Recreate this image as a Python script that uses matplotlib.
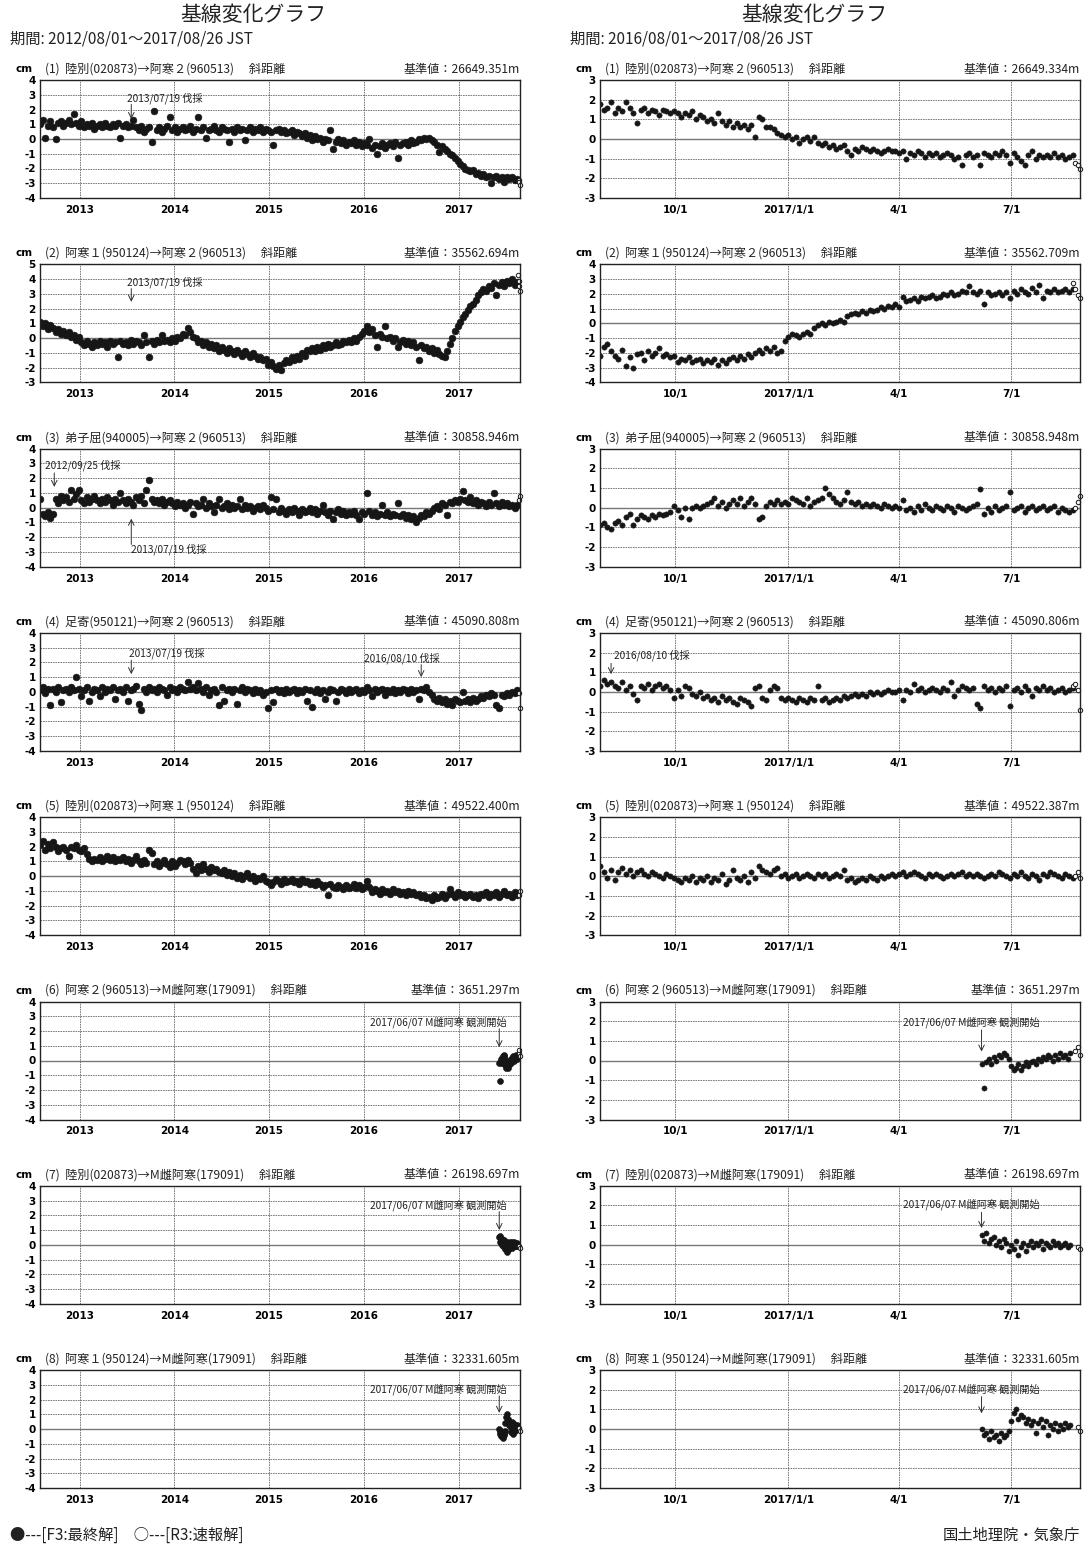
import numpy as np
import matplotlib
matplotlib.use('Agg')
import matplotlib.pyplot as plt
import matplotlib.dates as mdates

plt.rcParams['font.family'] = ['Noto Sans CJK JP', 'DejaVu Sans']

# ---------------- text ----------------
MAIN_TITLE = '基線変化グラフ'
PERIOD_LEFT = '期間: 2012/08/01～2017/08/26 JST'
PERIOD_RIGHT = '期間: 2016/08/01～2017/08/26 JST'
PANEL_TITLES = [
    '(1)  陸別(020873)→阿寒２(960513)　 斜距離',
    '(2)  阿寒１(950124)→阿寒２(960513)　 斜距離',
    '(3)  弟子屈(940005)→阿寒２(960513)　 斜距離',
    '(4)  足寄(950121)→阿寒２(960513)　 斜距離',
    '(5)  陸別(020873)→阿寒１(950124)　 斜距離',
    '(6)  阿寒２(960513)→M雌阿寒(179091)　 斜距離',
    '(7)  陸別(020873)→M雌阿寒(179091)　 斜距離',
    '(8)  阿寒１(950124)→M雌阿寒(179091)　 斜距離',
]
BASE_LEFT = ['26649.351', '35562.694', '30858.946', '45090.808',
             '49522.400', '3651.297', '26198.697', '32331.605']
BASE_RIGHT = ['26649.334', '35562.709', '30858.948', '45090.806',
              '49522.387', '3651.297', '26198.697', '32331.605']
LEFT_TICKS = ['2013-01-01', '2014-01-01', '2015-01-01', '2016-01-01', '2017-01-01']
LEFT_TICK_LABELS = ['2013', '2014', '2015', '2016', '2017']
RIGHT_TICKS = ['2016-10-01', '2017-01-01', '2017-04-01', '2017-07-01']
RIGHT_TICK_LABELS = ['10/1', '2017/1/1', '4/1', '7/1']
YLIM_LEFT = [(-4, 4), (-3, 5), (-4, 4), (-4, 4), (-4, 4), (-4, 4), (-4, 4), (-4, 4)]
YLIM_RIGHT = [(-3, 3), (-4, 4), (-3, 3), (-3, 3), (-3, 3), (-3, 3), (-3, 3), (-3, 3)]
FOOT_LEFT = '●---[F3:最終解]　○---[R3:速報解]'
FOOT_RIGHT = '国土地理院・気象庁'

LEFT_START, LEFT_END = '2012-08-01', '2017-08-26'
RIGHT_START, RIGHT_END = '2016-08-01', '2017-08-26'
LEFT_STEP = 10    # days between samples (long-term panels)
RIGHT_STEP = 3    # days between samples (short-term panels)
M_START, M_STEP = '2017-06-07', 2
QUICK_DATES = ['2017-08-20', '2017-08-22', '2017-08-24', '2017-08-26']

# ---------------- data (cm), long-term panels, every 10 days from 2012-08-01 ----------------
L1 = [1.0, 1.3, 0.1, 0.9, 1.2, 0.8, 0.0, 1.1, 1.2, 0.9, 1.1, 1.3, 1.0, 1.7, 1.1,
      0.9, 1.2, 0.8, 1.0, 0.9, 1.1, 0.7, 0.9, 1.0, 0.8, 1.1, 0.9, 0.8, 1.0, 0.9,
      1.1, 0.1, 0.9, 1.0, 0.8, 0.9, 1.3, 0.8, 0.6, 0.9, 0.5, 0.7, 0.8, -0.2, 1.9,
      0.6, 0.8, 0.5, 0.7, 0.9, 1.5, 0.6, 0.8, 0.5, 0.7, 0.8, 0.6, 0.7, 0.9, 0.5,
      0.7, 1.5, 0.6, 0.8, 0.1, 0.6, 0.7, 0.9, 0.6, 0.5, 0.8, 0.7, 0.6, -0.2, 0.7,
      0.5, 0.8, 0.6, 0.7, -0.1, 0.6, 0.8, 0.5, 0.7, 0.6, 0.8, 0.5, 0.7, 0.6, 0.5,
      -0.4, 0.6, 0.7, 0.5, 0.6, 0.4, 0.5, 0.6, 0.3, 0.5, 0.4, 0.2, 0.4, 0.1, 0.3,
      -0.1, 0.2, 0.0, 0.1, -0.2, 0.0, -0.1, 0.6, -0.7, -0.2, 0.0, -0.3, -0.1, -0.4, -0.2,
      -0.3, -0.1, -0.4, -0.2, -0.5, -0.3, -0.4, 0.0, -0.6, -0.4, -1.0, -0.5, -0.3, -0.6, -0.4,
      -0.3, -0.5, -0.2, -1.3, -0.4, -0.3, -0.2, -0.4, -0.1, -0.3, -0.2, 0.0, -0.1, 0.1, 0.0,
      0.1, -0.1, -0.2, -0.4, -0.9, -0.5, -0.7, -0.8, -1.0, -1.1, -1.3, -1.5, -1.7, -1.8, -2.0,
      -2.1, -2.2, -2.1, -2.4, -2.3, -2.5, -2.4, -2.6, -2.5, -3.0, -2.6, -2.5, -2.7, -2.6, -2.9,
      -2.6, -2.7, -2.6, -2.8, -2.7]
L1_Q = [-2.8, -2.9, -3.1]

L2 = [1.1, 0.8, 1.0, 0.6, 0.9, 0.7, 0.4, 0.6, 0.3, 0.5, 0.2, 0.4, 0.1, 0.2, -0.1,
      0.1, -0.3, -0.5, -0.2, -0.4, -0.6, -0.3, -0.5, -0.2, -0.4, -0.3, -0.6, -0.2, -0.4, -0.3,
      -1.3, -0.2, -0.4, -0.3, -0.5, -0.1, -0.4, -0.2, -0.3, -0.5, 0.2, -0.3, -1.3, -0.2, -0.4,
      -0.1, -0.3, 0.2, -0.2, -0.1, -0.3, 0.0, -0.2, 0.1, 0.0, 0.3, 0.2, 0.7, 0.4, 0.1,
      0.0, -0.3, -0.2, -0.5, -0.3, -0.6, -0.4, -0.7, -0.5, -0.9, -0.6, -0.8, -1.0, -0.7, -0.9,
      -1.1, -0.8, -1.0, -1.2, -0.9, -1.1, -1.3, -1.0, -1.2, -1.4, -1.3, -1.5, -1.4, -1.8, -1.6,
      -1.9, -2.1, -1.8, -2.2, -1.7, -1.5, -1.6, -1.3, -1.5, -1.2, -1.4, -1.0, -1.2, -0.8, -0.9,
      -0.7, -0.9, -0.6, -0.8, -0.5, -0.7, -0.4, -0.6, -0.5, -0.3, -0.5, -0.4, -0.2, -0.3, -0.1,
      -0.3, 0.0, -0.2, 0.1, 0.3, 0.5, 0.8, 0.4, 0.6, 0.2, -0.6, 0.3, 0.1, 0.8, 0.0,
      0.1, -0.2, 0.0, -0.6, -0.3, -0.1, -0.4, -0.2, -0.5, -0.3, -0.6, -1.5, -0.5, -0.7, -0.6,
      -0.9, -0.7, -1.0, -0.8, -1.1, -1.2, -1.3, -0.9, -0.4, 0.0, 0.5, 0.8, 1.1, 1.4, 1.6,
      1.9, 2.2, 2.3, 2.6, 2.9, 3.1, 3.3, 3.2, 3.5, 3.4, 3.7, 2.9, 3.6, 3.8, 3.5,
      3.9, 3.7, 4.0, 3.6, 3.8]
L2_Q = [4.3, 3.9, 3.5, 3.2]

L3 = [0.6, -0.4, -0.6, -0.3, -0.7, -0.4, 0.6, 0.3, 0.8, 0.5, 0.7, 0.4, 1.2, 0.6, 0.9,
      1.2, 0.5, 0.3, 0.7, 0.4, 0.6, 0.8, 0.5, 0.3, 0.6, 0.4, 0.7, 0.5, 0.2, 0.6,
      0.4, 1.0, 0.5, 0.3, 0.6, 0.4, 0.2, 0.7, 0.5, 0.8, 0.3, 1.2, 1.9, 0.6, 0.4,
      0.5, 0.3, 0.6, 0.2, 0.4, 0.5, 0.3, 0.1, 0.4, 0.2, 0.3, 0.0, 0.2, 0.4, -0.4,
      0.3, 0.1, 0.2, 0.6, 0.0, 0.3, 0.1, -0.3, 0.2, 0.6, 0.0, 0.1, 0.3, -0.1, 0.2,
      0.0, 0.1, 0.6, -0.1, 0.2, 0.0, 0.1, -0.2, 0.0, 0.1, -0.1, 0.2, 0.0, -0.2, 0.7,
      -0.1, 0.6, -0.3, 0.0, -0.2, -0.4, -0.1, -0.3, 0.0, -0.2, -0.5, -0.1, -0.3, -0.2, 0.0,
      -0.3, -0.1, -0.4, -0.2, 0.2, -0.3, -0.5, -0.2, -0.8, -0.3, -0.1, -0.4, -0.2, -0.5, -0.3,
      -0.4, -0.2, -0.5, -0.8, -0.3, -0.4, 1.0, -0.2, -0.5, -0.3, -0.6, -0.4, 0.2, -0.5, -0.3,
      -0.6, -0.4, -0.5, 0.3, -0.6, -0.4, -0.7, -0.5, -0.8, -0.6, -1.0, -0.7, -0.5, -0.6, -0.3,
      -0.4, -0.2, 0.0, 0.1, -0.1, 0.3, 0.2, -0.5, 0.4, 0.3, 0.5, 0.4, 0.6, 1.1, 0.5,
      0.4, 0.7, 0.3, 0.5, 0.2, 0.4, 0.3, 0.1, 0.4, 0.2, 1.0, 0.3, 0.1, 0.4, 0.2,
      0.3, 0.1, 0.2, 0.0, 0.2]
L3_Q = [0.5, 0.8]

L4 = [0.1, 0.3, -0.1, 0.2, -0.9, 0.2, 0.0, 0.3, -0.7, 0.1, 0.2, 0.0, 0.3, 0.1, 1.0,
      0.2, -0.3, 0.1, 0.3, -0.6, 0.0, 0.2, 0.1, -0.3, 0.3, 0.0, 0.2, 0.1, 0.3, -0.5,
      0.1, 0.2, 0.0, 0.3, -0.6, 0.1, 0.2, 0.4, -0.8, -1.2, 0.2, 0.0, 0.3, 0.1, 0.2,
      0.0, 0.3, 0.2, 0.1, -0.2, 0.3, 0.1, 0.2, 0.0, 0.3, 0.2, 0.1, 0.7, 0.2, 0.3,
      0.1, 0.6, 0.2, 0.0, 0.3, -0.2, 0.1, 0.2, 0.0, -0.9, 0.3, -0.6, 0.1, 0.2, 0.0,
      0.2, -0.8, 0.1, 0.3, 0.0, 0.2, 0.1, -0.1, 0.2, 0.0, 0.1, -0.2, 0.0, -1.1, 0.1,
      -0.7, 0.2, 0.0, 0.1, -0.1, 0.2, 0.0, 0.1, 0.2, -0.1, 0.1, 0.0, 0.2, -0.6, 0.1,
      -1.0, 0.0, 0.2, -0.1, 0.1, -0.5, 0.0, 0.2, 0.1, -0.6, 0.0, 0.2, 0.1, -0.1, 0.2,
      0.0, 0.1, 0.2, -0.1, 0.1, 0.0, 0.3, 0.1, -0.3, 0.2, 0.0, 0.1, 0.2, -0.2, 0.1,
      0.0, 0.2, -0.1, 0.1, 0.0, 0.2, 0.1, -0.1, 0.2, 0.0, 0.1, -0.5, 0.2, 0.1, 0.3,
      0.0, -0.2, -0.5, -0.6, -0.4, -0.7, -0.5, -0.8, -0.6, -0.9, -0.5, -0.6, -0.7, 0.0, -0.6,
      -0.5, -0.7, -0.4, -0.6, -0.5, -0.3, -0.4, -0.2, -0.3, -0.1, -0.2, -0.9, -1.1, -0.2, -0.3,
      -0.1, -0.2, 0.0, -0.1, 0.1]
L4_Q = [-0.1, -1.1]

L5 = [2.1, 2.4, 1.8, 2.2, 1.9, 2.3, 2.0, 1.7, 1.9, 2.0, 1.8, 1.4, 2.0, 1.9, 2.1,
      1.8, 1.7, 1.9, 1.5, 1.2, 1.0, 1.2, 1.1, 1.3, 1.0, 1.2, 1.4, 1.1, 1.3, 1.0,
      1.2, 1.1, 1.3, 1.0, 1.2, 0.9, 1.1, 1.4, 1.0, 0.8, 1.1, 0.9, 1.8, 1.6, 0.8,
      1.0, 0.7, 0.9, 1.1, 0.8, 0.6, 1.0, 0.7, 0.9, 1.1, 1.0, 0.8, 1.1, 0.9, 0.5,
      0.2, 0.7, 0.4, 0.8, 0.5, 0.3, 0.6, 0.4, 0.5, 0.3, 0.2, 0.4, 0.1, 0.3, 0.0,
      0.2, -0.1, 0.1, -0.2, 0.0, 0.2, -0.1, 0.0, -0.3, -0.1, -0.2, 0.0, -0.3, -0.4, -0.6,
      -0.4, -0.2, -0.3, -0.5, -0.2, -0.4, -0.3, -0.2, -0.4, -0.3, -0.5, -0.2, -0.4, -0.3, -0.5,
      -0.4, -0.6, -0.3, -0.5, -0.7, -0.6, -1.3, -0.5, -0.7, -0.8, -0.6, -0.7, -0.9, -0.6, -0.8,
      -0.7, -0.5, -0.8, -0.6, -0.9, -0.7, -0.3, -0.7, -1.1, -0.9, -1.0, -1.2, -0.9, -1.1, -1.0,
      -1.2, -0.9, -1.1, -1.0, -1.2, -1.1, -1.3, -1.0, -1.2, -1.1, -1.3, -1.2, -1.4, -1.3, -1.5,
      -1.4, -1.6, -1.3, -1.5, -1.4, -1.2, -1.5, -1.3, -0.9, -1.2, -1.4, -1.1, -1.3, -1.2, -1.4,
      -1.3, -1.2, -1.4, -1.3, -1.5, -1.2, -1.3, -1.1, -1.4, -1.2, -1.3, -1.1, -1.4, -1.2, -1.0,
      -1.3, -1.2, -1.4, -1.1, -1.3]
L5_Q = [-1.3, -1.0]

# ---------------- data (cm), short-term panels, every 3 days from 2016-08-01 ----------------
R1 = [1.8, 1.5, 1.6, 1.9, 1.3, 1.6, 1.4, 1.9, 1.6, 1.3,
      0.8, 1.5, 1.6, 1.3, 1.5, 1.4, 1.2, 1.5, 1.4, 1.3,
      1.4, 1.3, 1.1, 1.3, 1.2, 1.4, 1.0, 1.2, 1.1, 0.9,
      1.0, 0.8, 1.3, 0.9, 0.7, 0.9, 0.6, 0.8, 0.6, 0.7,
      0.5, 0.7, 0.1, 1.1, 1.0, 0.6, 0.6, 0.5, 0.3, 0.2,
      0.1, 0.2, 0.0, 0.1, -0.2, 0.0, 0.1, -0.1, 0.1, -0.2,
      -0.3, -0.2, -0.4, -0.3, -0.5, -0.4, -0.3, -0.6, -0.8, -0.5,
      -0.6, -0.4, -0.5, -0.6, -0.5, -0.6, -0.7, -0.6, -0.5, -0.6,
      -0.6, -0.7, -0.6, -1.0, -0.7, -0.8, -0.6, -0.7, -0.9, -0.7,
      -0.8, -0.7, -0.9, -0.8, -0.7, -0.8, -1.0, -0.9, -1.3, -0.8,
      -0.7, -0.9, -0.8, -1.3, -0.7, -0.8, -0.9, -0.7, -0.8, -0.6,
      -0.8, -1.2, -0.7, -0.9, -1.1, -1.3, -0.8, -0.6, -1.0, -0.8,
      -0.9, -0.8, -0.9, -0.7, -0.9, -0.8, -1.0, -0.9, -0.8]
R1_Q = [-1.2, -1.3, -1.5]

R2 = [-2.2, -1.6, -1.4, -1.9, -2.2, -2.4, -1.8, -2.9, -2.3, -3.0,
      -2.1, -2.0, -2.5, -1.9, -2.2, -2.0, -1.7, -2.2, -2.1, -2.3,
      -2.2, -2.6, -2.4, -2.5, -2.3, -2.6, -2.5, -2.4, -2.7, -2.5,
      -2.6, -2.4, -2.8, -2.5, -2.7, -2.4, -2.3, -2.5, -2.2, -2.4,
      -2.1, -2.3, -2.0, -1.8, -2.0, -1.7, -1.9, -1.6, -2.0, -1.9,
      -1.2, -0.9, -0.7, -0.8, -0.9, -0.7, -0.6, -0.7, -0.3, -0.1,
      0.0, -0.1, 0.1, 0.0, 0.1, 0.2, 0.1, 0.5, 0.6, 0.7,
      0.6, 0.8, 0.7, 0.9, 0.8, 0.9, 1.1, 1.0, 1.2, 1.1,
      1.3, 1.1, 1.8, 1.5, 1.6, 1.7, 1.5, 1.8, 1.7, 1.8,
      1.9, 1.7, 1.8, 2.0, 1.9, 2.1, 1.9, 2.0, 2.2, 2.1,
      2.5, 2.1, 2.0, 2.2, 1.3, 2.1, 1.9, 2.0, 2.1, 1.9,
      2.1, 1.7, 2.2, 2.0, 2.3, 2.1, 2.0, 2.4, 2.1, 2.6,
      1.7, 2.2, 2.1, 2.3, 2.1, 2.2, 2.3, 2.1, 2.3]
R2_Q = [2.7, 2.3, 1.9, 1.7]

R3 = [-0.9, -0.8, -1.0, -1.1, -0.8, -0.7, -0.9, -0.5, -0.3, -0.9,
      -0.6, -0.4, -0.5, -0.6, -0.4, -0.5, -0.3, -0.4, -0.3, -0.2,
      0.1, -0.1, -0.5, 0.0, -0.6, 0.0, 0.1, 0.0, 0.1, 0.2,
      0.3, 0.5, 0.1, 0.3, 0.0, 0.2, 0.4, 0.2, 0.5, 0.1,
      0.3, 0.5, 0.2, -0.6, -0.5, 0.1, 0.3, 0.2, 0.4, 0.2,
      0.3, 0.2, 0.5, 0.4, 0.3, 0.2, 0.5, 0.1, 0.3, 0.4,
      0.5, 1.0, 0.7, 0.5, 0.3, 0.2, 0.4, 0.8, 0.3, 0.2,
      0.3, 0.1, 0.2, 0.1, 0.2, 0.1, 0.0, 0.2, 0.1, 0.0,
      0.1, 0.0, 0.4, -0.1, 0.0, -0.2, 0.1, -0.1, 0.2, 0.0,
      -0.1, 0.1, 0.0, -0.1, 0.1, 0.0, -0.2, 0.1, 0.0, -0.1,
      0.0, 0.1, 0.2, 0.95, -0.3, 0.0, -0.2, 0.1, -0.1, 0.0,
      0.1, 0.8, -0.1, 0.0, 0.1, -0.2, 0.0, 0.1, -0.1, 0.0,
      0.1, -0.1, 0.0, 0.1, -0.2, 0.0, -0.1, -0.2, -0.1]
R3_Q = [0.0, 0.3, 0.6]

R4 = [0.3, 0.6, 0.4, 0.5, 0.3, 0.2, 0.5, 0.1, 0.3, -0.1,
      -0.4, 0.3, 0.2, 0.4, 0.1, 0.3, 0.4, 0.2, 0.3, 0.1,
      -0.3, 0.1, -0.2, 0.3, 0.2, -0.1, -0.2, 0.0, -0.3, -0.2,
      -0.4, -0.3, -0.5, -0.2, -0.4, -0.3, -0.5, -0.6, -0.3, -0.4,
      -0.5, -0.7, 0.2, 0.3, -0.3, -0.4, 0.1, 0.3, 0.2, -0.3,
      -0.4, -0.3, -0.4, -0.5, -0.3, -0.4, -0.5, -0.3, -0.4, 0.3,
      -0.4, -0.3, -0.5, -0.4, -0.3, -0.4, -0.2, -0.3, -0.2, -0.1,
      -0.2, -0.1, -0.2, 0.0, -0.1, 0.0, -0.1, 0.0, 0.1, 0.0,
      0.0, 0.1, -0.4, 0.1, 0.0, 0.4, 0.1, 0.2, 0.0, 0.1,
      0.2, 0.1, 0.0, 0.2, 0.1, 0.5, -0.2, 0.1, 0.3, 0.2,
      0.1, 0.2, -0.6, -0.8, 0.3, 0.1, 0.2, 0.0, 0.2, 0.1,
      0.3, -0.7, 0.1, 0.2, 0.0, 0.3, 0.1, -0.2, 0.2, 0.1,
      0.3, 0.1, 0.2, 0.0, 0.1, 0.2, 0.0, 0.1, 0.2]
R4_Q = [0.3, 0.4, 0.1, -0.9]

R5 = [0.5, 0.2, -0.1, 0.3, -0.2, 0.2, 0.4, 0.1, 0.3, 0.0,
      0.2, 0.3, 0.1, 0.0, 0.2, 0.1, 0.0, -0.1, 0.1, 0.0,
      -0.1, -0.2, -0.3, -0.1, -0.2, 0.0, -0.3, -0.1, -0.2, 0.0,
      -0.3, -0.1, -0.2, 0.1, -0.4, -0.2, 0.3, -0.1, -0.2, 0.0,
      -0.3, 0.2, -0.1, 0.5, 0.3, 0.2, 0.1, 0.3, 0.4, 0.0,
      0.1, -0.1, 0.0, 0.1, -0.1, 0.0, 0.1, 0.0, -0.1, 0.1,
      0.0, 0.1, -0.1, 0.0, 0.1, 0.0, 0.3, -0.2, -0.1, -0.3,
      -0.2, -0.1, -0.2, 0.0, -0.1, -0.2, 0.0, -0.1, 0.0, 0.1,
      0.0, 0.1, 0.2, 0.0, 0.1, 0.2, 0.1, 0.0, -0.1, 0.1,
      0.0, 0.1, 0.0, -0.1, 0.0, 0.1, 0.0, 0.1, 0.2, 0.0,
      0.1, 0.0, 0.1, 0.0, -0.1, 0.0, 0.1, 0.0, 0.2, 0.1,
      0.0, -0.1, 0.1, 0.0, 0.2, 0.0, -0.1, 0.1, 0.0, -0.2,
      0.1, 0.0, 0.2, 0.1, 0.0, -0.1, 0.1, 0.0, -0.1]
R5_Q = [0.0, 0.2, -0.1]

# ---------------- data (cm), M雌阿寒 baselines, every 2 days from 2017-06-07 ----------------
M6 = [-0.2, -1.4, -0.1, 0.1, -0.2, 0.2, 0.0, 0.3, 0.2, 0.4, 0.3, 0.1, -0.3, -0.5,
      -0.4, -0.2, -0.5, -0.3, -0.1, -0.3, -0.1, 0.0, -0.2, 0.1, 0.0, 0.2, 0.1, 0.3,
      0.2, 0.0, 0.3, 0.1, 0.4, 0.2, 0.3, 0.1, 0.4]
M6_Q = [0.5, 0.7, 0.3]
M7 = [0.5, 0.2, 0.6, 0.1, 0.3, 0.4, 0.0, 0.2, -0.1, 0.3, 0.1, -0.3, 0.0, -0.2,
      0.2, -0.5, -0.1, 0.1, -0.3, 0.0, 0.2, -0.1, 0.1, 0.0, 0.2, -0.2, 0.1, 0.0,
      -0.1, 0.2, 0.0, 0.1, -0.1, 0.0, 0.1, -0.1, 0.0]
M7_Q = [-0.1, -0.2]
M8 = [0.0, -0.3, -0.2, -0.5, -0.1, -0.4, -0.3, -0.6, -0.2, -0.4, -0.3, -0.1, 0.4, 0.8,
      1.0, 0.5, 0.7, 0.6, 0.3, 0.5, 0.2, 0.4, -0.2, 0.3, 0.5, 0.1, 0.4, -0.3, 0.2,
      0.0, 0.3, -0.1, 0.2, 0.0, 0.3, 0.1, 0.2]
M8_Q = [0.1, -0.1]

LEFT_SERIES = [(L1, L1_Q, 'L'), (L2, L2_Q, 'L'), (L3, L3_Q, 'L'), (L4, L4_Q, 'L'),
               (L5, L5_Q, 'L'), (M6, M6_Q, 'M'), (M7, M7_Q, 'M'), (M8, M8_Q, 'M')]
RIGHT_SERIES = [(R1, R1_Q, 'R'), (R2, R2_Q, 'R'), (R3, R3_Q, 'R'), (R4, R4_Q, 'R'),
                (R5, R5_Q, 'R'), (M6, M6_Q, 'M'), (M7, M7_Q, 'M'), (M8, M8_Q, 'M')]

# annotations: (text, event date, text offset days, text y, arrow start y, arrow end y, ha)
FELL = '伐採'
LEFT_ANN = {
    0: [('2013/07/19 ' + FELL, '2013-07-19', -17, 2.75, 2.35, 1.35, 'left')],
    1: [('2013/07/19 ' + FELL, '2013-07-19', -17, 3.8, 3.35, 2.45, 'left')],
    2: [('2012/09/25 ' + FELL, '2012-09-25', -37, 2.85, 2.35, 1.4, 'left'),
        ('2013/07/19 ' + FELL, '2013-07-19', -3, -2.85, -2.5, -0.75, 'left')],
    3: [('2013/07/19 ' + FELL, '2013-07-19', -9, 2.6, 2.15, 1.2, 'left'),
        ('2016/08/10 ' + FELL, '2016-08-10', -221, 2.25, 1.85, 1.0, 'left')],
    5: [('2017/06/07 M雌阿寒 観測開始', '2017-06-07', 30, 2.6, 2.15, 0.9, 'right')],
    6: [('2017/06/07 M雌阿寒 観測開始', '2017-06-07', 30, 2.7, 2.25, 1.0, 'right')],
    7: [('2017/06/07 M雌阿寒 観測開始', '2017-06-07', 30, 2.7, 2.25, 1.1, 'right')],
}
RIGHT_ANN = {
    3: [('2016/08/10 ' + FELL, '2016-08-10', 2, 1.85, 1.45, 0.9, 'left')],
    5: [('2017/06/07 M雌阿寒 観測開始', '2017-06-07', 47, 1.95, 1.55, 0.45, 'right')],
    6: [('2017/06/07 M雌阿寒 観測開始', '2017-06-07', 47, 2.05, 1.65, 0.85, 'right')],
    7: [('2017/06/07 M雌阿寒 観測開始', '2017-06-07', 47, 2.05, 1.65, 0.8, 'right')],
}

# ---------------- drawing ----------------
W, H = 1085, 1546
fig = plt.figure(figsize=(W / 100, H / 100), dpi=100)
fig.patch.set_facecolor('white')

def dnum(s):
    return mdates.date2num(np.datetime64(s))

def sample_dates(kind, n):
    if kind == 'L':
        start, step = LEFT_START, LEFT_STEP
    elif kind == 'R':
        start, step = RIGHT_START, RIGHT_STEP
    else:
        start, step = M_START, M_STEP
    d = np.datetime64(start) + np.arange(n) * np.timedelta64(step, 'D')
    return mdates.date2num(d)

COL_X = [40, 600]
AX_W, AX_H = 480, 118
ROW_Y = [80 + 184.3 * i for i in range(8)]
DOT = '#161616'
GRID = '#6a6a6a'
MS = {(0, 'L'): 4.9, (0, 'M'): 4.3, (1, 'R'): 3.8, (1, 'M'): 3.7}

def fx(px):
    return px / W

def fy(py):
    return 1 - py / H

# headers
for cx in (253, 814):
    fig.text(fx(cx), fy(15), MAIN_TITLE, ha='center', va='center', fontsize=15, color='#222')
for px0, per in ((10, PERIOD_LEFT), (570, PERIOD_RIGHT)):
    fig.text(fx(px0), fy(39), per, ha='left', va='center', fontsize=11, color='#222')

for col in range(2):
    series = LEFT_SERIES if col == 0 else RIGHT_SERIES
    ylims = YLIM_LEFT if col == 0 else YLIM_RIGHT
    bases = BASE_LEFT if col == 0 else BASE_RIGHT
    ticks = LEFT_TICKS if col == 0 else RIGHT_TICKS
    tlabels = LEFT_TICK_LABELS if col == 0 else RIGHT_TICK_LABELS
    xs, xe = (LEFT_START, LEFT_END) if col == 0 else (RIGHT_START, RIGHT_END)
    anns = LEFT_ANN if col == 0 else RIGHT_ANN
    x0 = COL_X[col]
    for row in range(8):
        y0 = ROW_Y[row]
        ax = fig.add_axes([fx(x0), fy(y0 + AX_H), AX_W / W, AX_H / H])
        ax.set_xlim(dnum(xs), dnum(xe))
        lo, hi = ylims[row]
        ax.set_ylim(lo, hi)
        yt = list(range(lo, hi + 1))
        for v in yt[1:-1]:
            if v == 0:
                ax.axhline(0, color='#777777', lw=1.0, zorder=1)
            else:
                ax.axhline(v, color=GRID, lw=0.6, ls=(0, (2, 1)), zorder=1)
        tnum = [dnum(t) for t in ticks]
        for t in tnum:
            ax.axvline(t, color=GRID, lw=0.6, ls=(0, (2, 1)), zorder=1)
        ax.set_yticks(yt)
        ax.set_yticklabels([('-' + str(-v)) if v < 0 else str(v) for v in yt],
                           fontsize=7.5, fontweight='bold', family=['DejaVu Sans'])
        ax.set_xticks(tnum)
        ax.set_xticklabels(tlabels, fontsize=7.5, fontweight='bold', family=['DejaVu Sans'])
        ax.tick_params(axis='both', length=0)
        ax.tick_params(axis='y', pad=3)
        ax.tick_params(axis='x', pad=5)
        for sp in ax.spines.values():
            sp.set_linewidth(1.0)
            sp.set_color('#222')
            sp.set_zorder(5)

        vals, qvals, kind = series[row]
        ms = MS[(col, kind)]
        ax.plot(sample_dates(kind, len(vals)), vals, 'o', ms=ms, color=DOT,
                mec=DOT, mew=0.4, ls='none', zorder=3)
        qd = mdates.date2num(np.array(QUICK_DATES[-len(qvals):], dtype='datetime64[D]'))
        ax.plot(qd, qvals, 'o', ms=3.2, mfc='white', mec=DOT, mew=0.7,
                ls='none', zorder=4, clip_on=False)

        for (txt, ev, off, ty, a0, a1, ha) in anns.get(row, []):
            xd = dnum(ev)
            ax.annotate('', xy=(xd, a1), xytext=(xd, a0),
                        arrowprops=dict(arrowstyle='->', color='#333', lw=0.7,
                                        shrinkA=0, shrinkB=0), zorder=4)
            ax.text(xd + off, ty, txt, ha=ha, va='center', fontsize=7.3, color='#222', zorder=4)

        hy = y0 - 11
        fig.text(fx(x0 - 7), fy(hy), 'cm', ha='right', va='center', fontsize=7.5,
                 fontweight='bold', family=['DejaVu Sans'])
        fig.text(fx(x0 + 5), fy(hy), PANEL_TITLES[row], ha='left', va='center',
                 fontsize=8.7, color='#222')
        fig.text(fx(x0 + AX_W), fy(hy), '基準値：' + bases[row] + 'm', ha='right',
                 va='center', fontsize=8.7, color='#222')

fig.text(fx(10), fy(1535), FOOT_LEFT, ha='left', va='center', fontsize=11, color='#222')
fig.text(fx(1080), fy(1535), FOOT_RIGHT, ha='right', va='center', fontsize=11, color='#222')

fig.savefig('out.png', dpi=100, facecolor='white')
